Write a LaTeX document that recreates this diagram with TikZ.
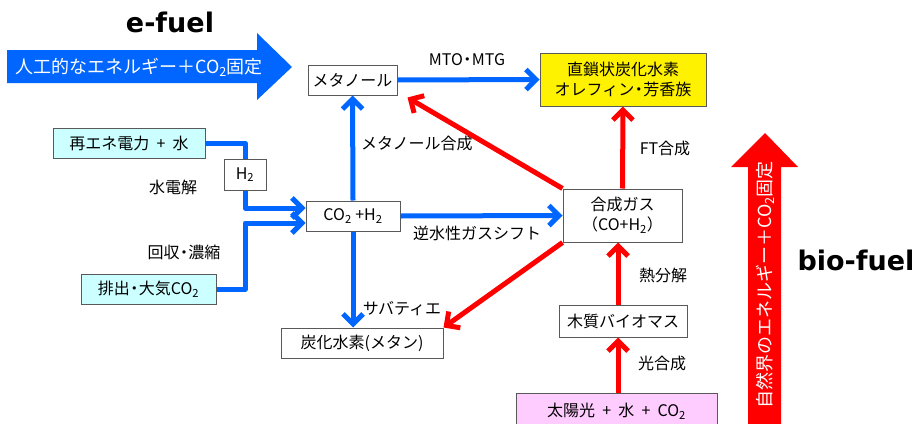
\documentclass[tikz,border=0pt]{standalone}
\usepackage{fontspec}
\setmainfont{Noto Sans CJK JP}
\newfontfamily\boldlat{DejaVu Sans}
\usetikzlibrary{arrows.meta,calc}
\definecolor{eblue}{RGB}{0,102,255}
\definecolor{bred}{RGB}{255,0,0}
\definecolor{boxgray}{RGB}{89,89,89}
\definecolor{cyanbox}{RGB}{204,255,255}
\definecolor{pinkbox}{RGB}{255,204,255}
\newcommand\ndot{\kern-0.22em・\kern-0.22em}
\newcommand\pls{\hspace{0.45em}+\hspace{0.45em}}
\begin{document}
\begin{tikzpicture}[x=1pt,y=-1pt,
  box/.style={draw=boxgray, line width=1pt, fill=white, inner sep=0pt, align=center,
    font=\fontsize{16}{20}\selectfont},
  lbl/.style={inner sep=0pt, font=\fontsize{16}{20}\selectfont},
  flow/.style={line width=5pt, line join=round, -{Straight Barb[length=10pt,width=20pt]}},
  flowline/.style={line width=5pt, line join=round},
  bigtext/.style={inner sep=0pt, font=\boldlat\bfseries\fontsize{27}{30}\selectfont},
  arrowtext/.style={inner sep=0pt, text=white, font=\fontsize{18}{21}\selectfont}]
\useasboundingbox (0,0) rectangle (920,423);

% big arrows
\fill[eblue] (7,50) -- (257,50) -- (257,33) -- (292,67) -- (257,100) -- (257,83) -- (7,83) -- cycle;
\node[arrowtext] (etext) at (139,67) {人工的なエネルギー＋CO\textsubscript{2}固定};
\fill[bred] (748,430) -- (748,167) -- (731,167) -- (765,133) -- (798,167) -- (781,167) -- (781,430) -- cycle;
\node[arrowtext, rotate=90] (btext) at (765,285) {自然界のエネルギー＋CO\textsubscript{2}固定};
\node[bigtext] (efuel) at (170,22) {e-fuel};
\node[bigtext] (biofuel) at (856,260) {bio-fuel};

% boxes
\node[box, minimum width=89pt, minimum height=30pt] (meth) at (352.5,80) {メタノール};
\node[box, fill=yellow, minimum width=166pt, minimum height=53pt] (olef) at (623,79.5) {直鎖状炭化水素\\オレフィン\ndot 芳香族};
\node[box, fill=cyanbox, minimum width=152pt, minimum height=30pt] (renew) at (129,143) {再エネ電力\pls 水};
\node[box, fill=cyanbox, minimum width=135pt, minimum height=30pt] (emit) at (148.5,289) {排出\ndot 大気CO\textsubscript{2}};
\node[box, minimum width=94pt, minimum height=30pt] (co2h2) at (353,216) {CO\textsubscript{2} +H\textsubscript{2}};
\node[box, minimum width=119pt, minimum height=53pt] (syn) at (622.5,215.5) {合成ガス\\（CO+H\textsubscript{2}）};
\node[box, minimum width=162pt, minimum height=30pt] (ch4) at (362,343) {炭化水素(メタン)};
\node[box, minimum width=128pt, minimum height=32pt] (wood) at (623,321) {木質バイオマス};
\node[box, fill=pinkbox, minimum width=201pt, minimum height=36pt] (sun) at (616.5,411) {太陽光\pls 水\pls CO\textsubscript{2}};
\node[box, minimum width=42pt, minimum height=31pt] (h2) at (245,174.5) {H\textsubscript{2}};

% labels
\node[lbl] (l1) at (467,60) {MTO\ndot MTG};
\node[lbl, anchor=west] (l2) at (361,143) {メタノール合成};
\node[lbl] (l3) at (173,187) {水電解};
\node[lbl] (l4) at (184,252) {回収\ndot 濃縮};
\node[lbl] (l5) at (477,233) {逆水性ガスシフト};
\node[lbl] (l6) at (402,309) {サバティエ};
\node[lbl] (l7) at (665,148) {FT合成};
\node[lbl] (l8) at (663,275) {熱分解};
\node[lbl] (l9) at (662,363) {光合成};

% coordinates
\coordinate (cin1) at ($(co2h2.west)+(0,-8)$);
\coordinate (cin2) at ($(co2h2.west)+(0,7)$);
\coordinate (methtip) at ($(meth.south east)+(10,2)$);
\coordinate (sx) at (618,0);

% blue connectors
\draw[eblue, flowline] (renew.east) -| (h2.north);
\draw[eblue, flow] (h2.south) |- (cin1);
\draw[eblue, flow] (emit.east) -| (h2.south |- cin2) -- (cin2);
\draw[eblue, flow] (meth.east) -- (olef.west);
\draw[eblue, flow] (co2h2.north) -- (meth.south);
\draw[eblue, flow] (co2h2.east) -- (syn.west);
\draw[eblue, flow] (co2h2.south) -- (co2h2.south |- ch4.north);

% red connectors
\draw[bred, flow] (syn.north) -- (olef.south);
\draw[bred, flow] (syn.north west) -- (methtip);
\draw[bred, flow] (syn.south west) -- (ch4.north east);
\draw[bred, flow] (sx |- wood.north) -- (sx |- syn.south);
\draw[bred, flow] (sx |- sun.north) -- (sx |- wood.south);
\end{tikzpicture}
\end{document}
